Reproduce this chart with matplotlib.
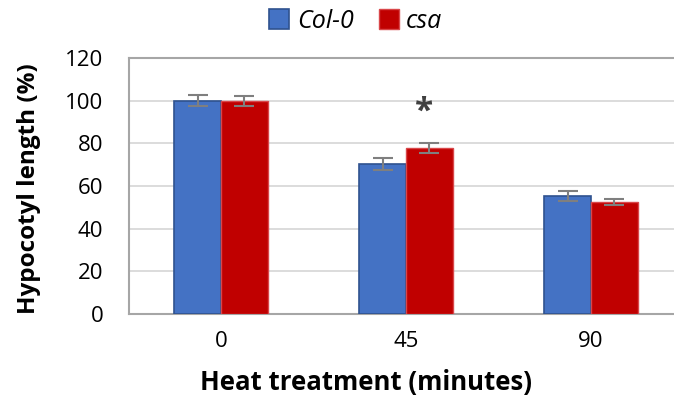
import matplotlib.pyplot as plt
import numpy as np

plt.rcParams['font.family'] = ['Open Sans', 'DejaVu Sans']

categories = ['0', '45', '90']
col0 = [100, 70.2, 55.4]
col0_err = [2.6, 2.8, 2.2]
csa = [100, 77.8, 52.5]
csa_err = [2.4, 2.5, 1.5]
yticks = [0, 20, 40, 60, 80, 100, 120]

fig = plt.figure(figsize=(6.74, 4.0), dpi=100)
# plot area runs a little past the right edge of the picture, as in the original
ax = fig.add_axes([128.5 / 674, 86 / 400, 555 / 674, 256 / 400])

x = np.arange(len(categories))
w = 0.252
ebar = dict(ecolor='#7f7f7f', elinewidth=1.5, capsize=7, capthick=1.5)
ax.bar(x - w / 2, col0, w, yerr=col0_err, color='#4472c4', edgecolor='#2f528f',
       linewidth=1.2, label='Col-0', error_kw=ebar, zorder=3)
ax.bar(x + w / 2, csa, w, yerr=csa_err, color='#c00000', edgecolor='#d9474a',
       linewidth=1.0, label='csa', error_kw=ebar, zorder=3)

# significance mark
ax.text(x[1] + w / 2 - 0.03, 94.5, '*', ha='center', va='center', fontsize=24,
        fontweight='bold', color='#404040', zorder=4)

ax.set_xlim(-0.5, 2.5)
ax.set_ylim(0, 120)
ax.set_yticks(yticks)
ax.set_xticks(x)
ax.set_xticklabels(categories)
ax.tick_params(axis='both', length=0, labelsize=16, colors='#000000')
ax.tick_params(axis='y', pad=18)
ax.tick_params(axis='x', pad=12)
ax.grid(axis='y', color='#d9d9d9', linewidth=1.3, zorder=0)
for s in ['top', 'left', 'bottom', 'right']:
    ax.spines[s].set_color('#a6a6a6')
    ax.spines[s].set_linewidth(1.5)

ax.set_ylabel('Hypocotyl length (%)', fontsize=17.5, fontweight='bold')
ax.yaxis.set_label_coords(-0.158, 0.49)
ax.set_xlabel('Heat treatment (minutes)', fontsize=18.5, fontweight='bold')
ax.xaxis.set_label_coords(0.428, -0.215)

leg = fig.legend(loc='center', bbox_to_anchor=(0.528, 0.947), ncol=2, frameon=False,
                 prop=dict(style='italic', size=18), handlelength=0.8,
                 handleheight=0.8, columnspacing=1.0, handletextpad=0.3)

fig.savefig('out.png', dpi=100)
